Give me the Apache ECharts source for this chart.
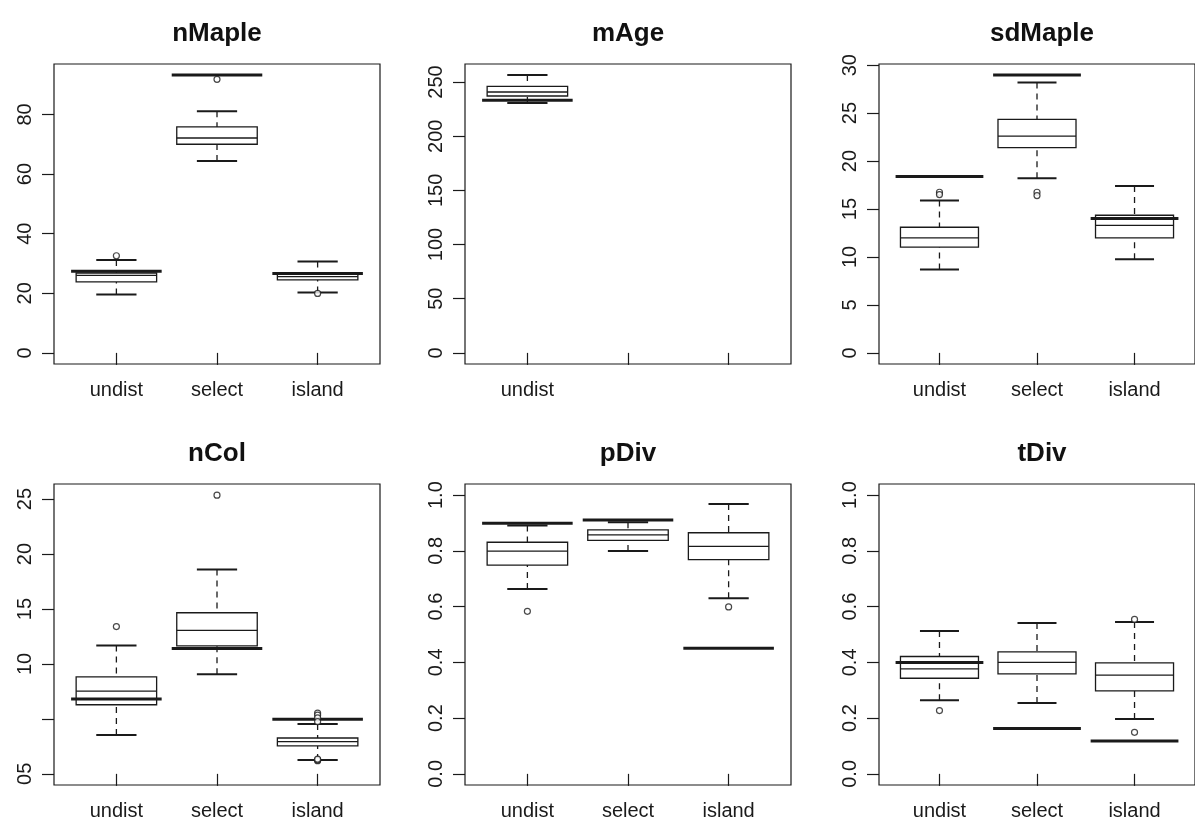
<!DOCTYPE html>
<html>
<head>
<meta charset="utf-8">
<script src="https://cdn.jsdelivr.net/npm/echarts@6/dist/echarts.min.js"></script>
<style>
  html, body { margin: 0; background: #fff; }
  #main { width: 1195px; height: 825px; }
</style>
</head>
<body>
<div id="main"></div>
<script>
// groups on the x axis
const groups = ['undist', 'select', 'island']
const mAgeGroups = ['undist', '', '']

// box stats per group: [lower whisker, q1, median, q3, upper whisker]
const nMapleBox = [[19.6, 23.8, 26.0, 26.8, 31.2], [64.4, 70.0, 72.1, 75.8, 81.1], [20.3, 24.5, 25.6, 26.7, 30.7]]
const nMapleOut = [[1, 32.6], [2, 91.8], [3, 19.95]]
const nMapleRef = [27.4, 93.2, 26.6]
const nMapleYlim = [0, 93.2]
const nMapleTicks = [0, 20, 40, 60, 80]
const nMapleTickLabels = ['0', '20', '40', '60', '80']

const mAgeBox = [[230.7, 237.1, 240.8, 246.0, 256.4]]
const mAgeOut = []
const mAgeRef = [233.2]
const mAgeYlim = [0, 256.4]
const mAgeTicks = [0, 50, 100, 150, 200, 250]
const mAgeTickLabels = ['0', '50', '100', '150', '200', '250']

const sdMapleBox = [[8.7, 11.03, 12.0, 13.1, 15.9], [18.2, 21.4, 22.6, 24.35, 28.2], [9.75, 12.0, 13.3, 14.35, 17.4]]
const sdMapleOut = [[1, 16.75], [1, 16.5], [2, 16.75], [2, 16.4]]
const sdMapleRef = [18.38, 28.96, 14.0]
const sdMapleYlim = [0, 28.96]
const sdMapleTicks = [0, 5, 10, 15, 20, 25, 30]
const sdMapleTickLabels = ['0', '5', '10', '15', '20', '25', '30']

const nColBox = [[3.54, 6.29, 7.53, 8.83, 11.67], [9.07, 11.64, 13.06, 14.66, 18.6], [1.27, 2.54, 2.93, 3.26, 4.53]]
const nColOut = [[1, 13.4], [2, 25.36], [3, 5.53], [3, 5.35], [3, 5.1], [3, 4.75], [3, 1.2], [3, 1.27], [3, 1.34]]
const nColRef = [6.8, 11.4, 4.96]
const nColYlim = [0, 25.36]
const nColTicks = [0, 5, 10, 15, 20, 25]
const nColTickLabels = ['05', '', '10', '15', '20', '25']

const pDivBox = [[0.663, 0.749, 0.799, 0.831, 0.891], [0.800, 0.8375, 0.8576, 0.8755, 0.903], [0.630, 0.769, 0.816, 0.865, 0.968]]
const pDivOut = [[1, 0.583], [3, 0.599]]
const pDivRef = [0.8995, 0.911, 0.451]
const pDivYlim = [0, 1]
const divTicks = [0, 0.2, 0.4, 0.6, 0.8, 1.0]
const divTickLabels = ['0.0', '0.2', '0.4', '0.6', '0.8', '1.0']

const tDivBox = [[0.264, 0.343, 0.377, 0.421, 0.513], [0.254, 0.359, 0.400, 0.438, 0.541], [0.197, 0.298, 0.354, 0.398, 0.545]]
const tDivOut = [[1, 0.227], [3, 0.554], [3, 0.149]]
const tDivRef = [0.3995, 0.163, 0.118]
const tDivYlim = [0, 1]

const ink = '#1a1a1a'
const font = '"Liberation Sans", Arial, Helvetica, sans-serif'

const panels = [
    { title: 'nMaple', box: nMapleBox, out: nMapleOut, ref: nMapleRef, ylim: nMapleYlim, ticks: nMapleTicks, labels: nMapleTickLabels, xlab: groups, left: 54, top: 64, height: 300 },
    { title: 'mAge', box: mAgeBox, out: mAgeOut, ref: mAgeRef, ylim: mAgeYlim, ticks: mAgeTicks, labels: mAgeTickLabels, xlab: mAgeGroups, left: 465, top: 64, height: 300 },
    { title: 'sdMaple', box: sdMapleBox, out: sdMapleOut, ref: sdMapleRef, ylim: sdMapleYlim, ticks: sdMapleTicks, labels: sdMapleTickLabels, xlab: groups, left: 879, top: 64, height: 300 },
    { title: 'nCol', box: nColBox, out: nColOut, ref: nColRef, ylim: nColYlim, ticks: nColTicks, labels: nColTickLabels, xlab: groups, left: 54, top: 484, height: 301 },
    { title: 'pDiv', box: pDivBox, out: pDivOut, ref: pDivRef, ylim: pDivYlim, ticks: divTicks, labels: divTickLabels, xlab: groups, left: 465, top: 484, height: 301 },
    { title: 'tDiv', box: tDivBox, out: tDivOut, ref: tDivRef, ylim: tDivYlim, ticks: divTicks, labels: divTickLabels, xlab: groups, left: 879, top: 484, height: 301 }
]
const panelWidth = 326

// R style boxplot: dashed whiskers, short staples, white box, thin median
function renderBox(params, api) {
    let x = api.value(0)
    let pLo = api.coord([x, api.value(1)])
    let pQ1 = api.coord([x, api.value(2)])
    let pMd = api.coord([x, api.value(3)])
    let pQ3 = api.coord([x, api.value(4)])
    let pHi = api.coord([x, api.value(5)])
    let bl = api.coord([x - 0.4, 0])[0], br = api.coord([x + 0.4, 0])[0]
    let sl = api.coord([x - 0.2, 0])[0], sr = api.coord([x + 0.2, 0])[0]
    let dash = { stroke: ink, lineWidth: 1.3, lineDash: [6, 5] }
    let staple = { stroke: ink, lineWidth: 2 }
    return {
        type: 'group',
        children: [
            { type: 'line', shape: { x1: pHi[0], y1: pHi[1], x2: pQ3[0], y2: pQ3[1] }, style: dash },
            { type: 'line', shape: { x1: pLo[0], y1: pLo[1], x2: pQ1[0], y2: pQ1[1] }, style: dash },
            { type: 'line', shape: { x1: sl, y1: pHi[1], x2: sr, y2: pHi[1] }, style: staple },
            { type: 'line', shape: { x1: sl, y1: pLo[1], x2: sr, y2: pLo[1] }, style: staple },
            { type: 'rect', shape: { x: bl, y: pQ3[1], width: br - bl, height: pQ1[1] - pQ3[1] }, style: { fill: '#fff', stroke: ink, lineWidth: 1.3 } },
            { type: 'line', shape: { x1: bl, y1: pMd[1], x2: br, y2: pMd[1] }, style: { stroke: ink, lineWidth: 1.3 } }
        ]
    }
}

// thick reference segment across each group
function renderRef(params, api) {
    let x = api.value(0), y = api.value(1)
    let a = api.coord([x - 0.45, y]), b = api.coord([x + 0.45, y])
    return { type: 'line', shape: { x1: a[0], y1: a[1], x2: b[0], y2: b[1] }, style: { stroke: ink, lineWidth: 3 } }
}

function pickLabel(ticks, labels) {
    return function (v) {
        for (let i = 0; i < ticks.length; i++) {
            if (Math.abs(ticks[i] - v) < 1e-9) return labels[i]
        }
        return ''
    }
}

var option = { animation: false, backgroundColor: '#fff', title: [], grid: [], xAxis: [], yAxis: [], series: [] }

panels.forEach((p, i) => {
    let pad = (p.ylim[1] - p.ylim[0]) * 0.04
    option.title.push({
        text: p.title,
        left: p.left + panelWidth / 2 - 5,
        top: p.top - 43 - 5,
        textAlign: 'center',
        textStyle: { fontSize: 26, fontWeight: 'bold', color: '#111', fontFamily: font }
    })
    option.grid.push({
        left: p.left, top: p.top, width: panelWidth, height: p.height,
        show: true, borderColor: ink, borderWidth: 1.2, backgroundColor: 'transparent'
    })
    option.xAxis.push({
        type: 'value', gridIndex: i, min: 0.38, max: 3.62,
        axisLine: { show: false }, splitLine: { show: false },
        axisTick: { show: true, length: 12, customValues: [1, 2, 3], lineStyle: { color: ink, width: 1.2 } },
        axisLabel: {
            customValues: [1, 2, 3], margin: 16, fontSize: 20, color: ink, fontFamily: font,
            formatter: v => p.xlab[Math.round(v) - 1] || ''
        }
    })
    option.yAxis.push({
        type: 'value', gridIndex: i, min: p.ylim[0] - pad, max: p.ylim[1] + pad,
        axisLine: { show: false }, splitLine: { show: false },
        axisTick: { show: true, length: 12, customValues: p.ticks, lineStyle: { color: ink, width: 1.2 } },
        axisLabel: {
            customValues: p.ticks, rotate: 90, margin: 19, fontSize: 20, color: ink, fontFamily: font,
            formatter: pickLabel(p.ticks, p.labels)
        }
    })
    option.series.push({
        type: 'custom', xAxisIndex: i, yAxisIndex: i,
        renderItem: renderBox,
        data: p.box.map((s, k) => [k + 1].concat(s))
    })
    option.series.push({
        type: 'scatter', xAxisIndex: i, yAxisIndex: i,
        symbol: 'circle', symbolSize: 6,
        itemStyle: { color: '#fff', borderColor: ink, borderWidth: 1.2 },
        data: p.out
    })
    option.series.push({
        type: 'custom', xAxisIndex: i, yAxisIndex: i,
        renderItem: renderRef,
        data: p.ref.map((v, k) => [k + 1, v])
    })
})

var chart = echarts.init(document.getElementById('main'), null, { renderer: 'canvas' })
chart.setOption(option)
</script>
</body>
</html>
